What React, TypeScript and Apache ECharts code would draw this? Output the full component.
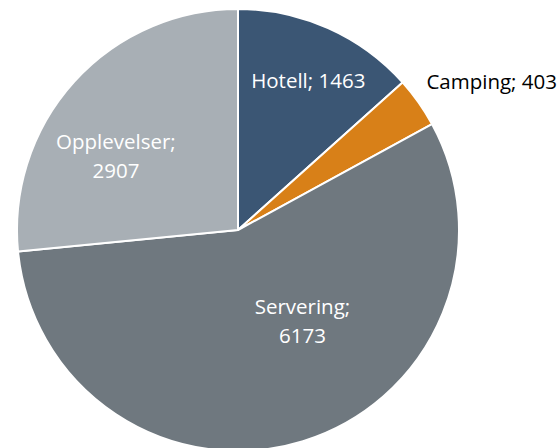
import React, { useEffect, useRef } from "react";
import * as echarts from "echarts";

const categories = ["Hotell", "Camping", "Servering", "Opplevelser"];
const values = [1463, 403, 6173, 2907];

const colors = ["#3b5674", "#d88018", "#6f787f", "#a8afb5"];
const labelColors = ["#ffffff", "#000000", "#ffffff", "#ffffff"];
const labelOffsets: [number, number][] = [
  [24, -46],
  [161, -83],
  [31, -18],
  [-38, 2],
];
const labelTexts = ["{b}; {c}", "{b}; {c}", "{b};\n{c}", "{b};\n{c}"];

export default function App() {
  const ref = useRef<HTMLDivElement>(null);
  useEffect(() => {
    if (!ref.current) return;
    const chart = echarts.init(ref.current, undefined, { renderer: "svg" });
    chart.setOption({
      animation: false,
      series: [
        {
          type: "pie",
          center: [238, 230],
          radius: [0, 221],
          startAngle: 90,
          clockwise: true,
          avoidLabelOverlap: false,
          labelLine: { show: false },
          itemStyle: { borderColor: "#ffffff", borderWidth: 2 },
          data: categories.map((name, i) => ({
            name,
            value: values[i],
            itemStyle: { color: colors[i] },
            label: {
              show: true,
              position: "inside",
              formatter: labelTexts[i],
              color: labelColors[i],
              fontFamily: "Open Sans",
              fontSize: 20.5,
              lineHeight: 29,
              offset: labelOffsets[i],
            },
          })),
        },
      ],
    });
    return () => chart.dispose();
  }, []);
  return (
    <div
      ref={ref}
      style={{ position: "fixed", left: 0, top: 0, width: 558, height: 448, background: "#ffffff" }}
    />
  );
}
